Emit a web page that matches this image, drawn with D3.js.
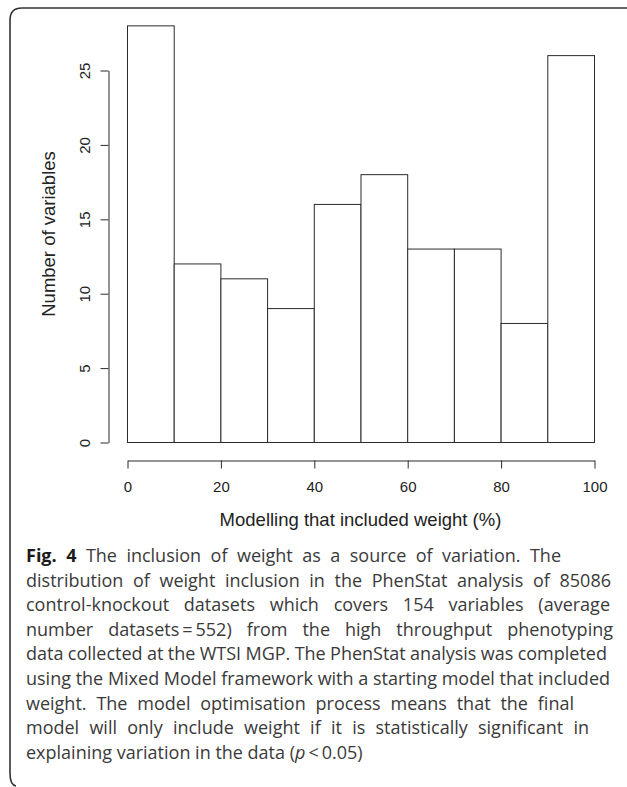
<!DOCTYPE html>
<html>
<head>
<meta charset="utf-8">
<script src="https://cdn.jsdelivr.net/npm/d3@7"></script>
<style>
  html, body { margin: 0; padding: 0; background: #fff; }
  svg { display: block; }
</style>
</head>
<body>
<svg id="chart" width="627" height="787"></svg>
<script>
// ---------- data ----------
const binEdges = [0, 10, 20, 30, 40, 50, 60, 70, 80, 90, 100];
const counts = [28, 12, 11, 9, 16, 18, 13, 13, 8, 26];
const xTicks = [0, 20, 40, 60, 80, 100];
const yTicks = [0, 5, 10, 15, 20, 25];
const xTitle = "Modelling that included weight (%)";
const yTitle = "Number of variables";
// caption lines; "**" marks bold, "_" marks italic
const captionLines = [
  "**Fig. 4** The inclusion of weight as a source of variation. The",
  "distribution of weight inclusion in the PhenStat analysis of 85086",
  "control-knockout datasets which covers 154 variables (average",
  "number datasets\u2009=\u2009552) from the high throughput phenotyping",
  "data collected at the WTSI MGP. The PhenStat analysis was completed",
  "using the Mixed Model framework with a starting model that included",
  "weight. The model optimisation process means that the final",
  "model will only include weight if it is statistically significant in",
  "explaining variation in the data (_p_\u2009<\u20090.05)"
];

// ---------- layout ----------
const lineEnds = [561, 611, 610, 613, 607, 610, 574, 589, null];
const svg = d3.select("#chart");
const ink = "#2b2b2b";

// frame
svg.append("path")
  .attr("d", "M627,8 L22,8 Q10,8 10,20 L10,773 Q10,785 16,786")
  .attr("fill", "none").attr("stroke", "#333").attr("stroke-width", 1.6);

const x = d3.scaleLinear().domain([0, 100]).range([127, 594]);
const y = d3.scaleLinear().domain([0, 25]).range([442, 70]);

const bins = counts.map((c, i) => ({ x0: binEdges[i], x1: binEdges[i + 1], n: c }));

svg.append("g").selectAll("rect").data(bins).join("rect")
  .attr("x", d => x(d.x0) + 0.5)
  .attr("width", d => x(d.x1) - x(d.x0))
  .attr("y", d => y(d.n) + 0.5)
  .attr("height", d => y(0) - y(d.n))
  .attr("fill", "#fff")
  .attr("stroke", ink).attr("stroke-width", 1);

const axisFont = "'Liberation Sans', Arial, Helvetica, sans-serif";

// x axis
const gx = svg.append("g").attr("transform", "translate(0.5,460.5)")
  .call(d3.axisBottom(x).tickValues(xTicks).tickSize(8).tickSizeOuter(0))
  .attr("font-family", axisFont);
gx.select(".domain").attr("stroke", ink);
gx.selectAll(".tick line").attr("stroke", ink);
gx.selectAll(".tick text")
  .attr("y", 31).attr("dy", 0)
  .attr("font-size", 15).attr("fill", "#222");

// y axis
const gy = svg.append("g").attr("transform", "translate(108.5,0.5)")
  .call(d3.axisLeft(y).tickValues(yTicks).tickSize(8).tickSizeOuter(0))
  .attr("font-family", axisFont);
gy.select(".domain").attr("stroke", ink);
gy.selectAll(".tick line").attr("stroke", ink);
gy.selectAll(".tick text")
  .attr("x", 0).attr("y", -19).attr("dy", 0)
  .attr("transform", "rotate(-90)")
  .attr("text-anchor", "middle")
  .attr("font-size", 15).attr("fill", "#222");

// axis titles
svg.append("text")
  .attr("x", 360.5).attr("y", 526)
  .attr("text-anchor", "middle")
  .attr("font-family", axisFont).attr("font-size", 18.5).attr("fill", "#222")
  .text(xTitle);
svg.append("text")
  .attr("transform", "translate(55,234) rotate(-90)")
  .attr("text-anchor", "middle")
  .attr("font-family", axisFont).attr("font-size", 18.5).attr("fill", "#222")
  .text(yTitle);

// ---------- caption (justified, word by word) ----------
const capFont = "'Open Sans', 'Noto Sans', sans-serif";
const capSize = 18;
const capX = 26, capY0 = 562, capLH = 24.6;
const capG = svg.append("g").attr("font-family", capFont).attr("font-size", capSize).attr("fill", "#3a3a3a");

function parseSegments(word, state) {
  const segs = [];
  let buf = "";
  let i = 0;
  while (i < word.length) {
    if (word.startsWith("**", i)) {
      if (buf) segs.push({ t: buf, bold: state.bold, italic: state.italic });
      buf = ""; state.bold = !state.bold; i += 2; continue;
    }
    if (word[i] === "_") {
      if (buf) segs.push({ t: buf, bold: state.bold, italic: state.italic });
      buf = ""; state.italic = !state.italic; i += 1; continue;
    }
    buf += word[i]; i++;
  }
  if (buf) segs.push({ t: buf, bold: state.bold, italic: state.italic });
  return segs;
}

const spaceProbe = capG.append("text").attr("x", 0).attr("y", -100).text("a a");
const aProbe = capG.append("text").attr("x", 0).attr("y", -100).text("aa");
const spaceW = spaceProbe.node().getComputedTextLength() - aProbe.node().getComputedTextLength();
spaceProbe.remove(); aProbe.remove();

captionLines.forEach((line, li) => {
  const state = { bold: false, italic: false };
  const words = line.split(" ").map(w => parseSegments(w, state));
  const yb = capY0 + li * capLH;
  const lg = capG.append("g");
  const nodes = words.map(segs => {
    const t = lg.append("text").attr("y", yb);
    segs.forEach(s => {
      t.append("tspan")
        .attr("font-weight", s.bold ? "bold" : null)
        .attr("font-style", s.italic ? "italic" : null)
        .attr("fill", s.bold ? "#1a1a1a" : null)
        .text(s.t);
    });
    return t;
  });
  const widths = nodes.map(n => n.node().getComputedTextLength());
  const total = d3.sum(widths);
  let gap = spaceW;
  let scale = 1;
  if (lineEnds[li] != null && nodes.length > 1) {
    const avail = lineEnds[li] - capX;
    const minGap = spaceW * 0.85;
    const natural = total + (nodes.length - 1) * minGap;
    if (natural > avail) {
      gap = minGap;
      scale = avail / natural;
    } else {
      gap = (avail - total) / (nodes.length - 1);
    }
  }
  let cx = capX;
  nodes.forEach((n, i) => { n.attr("x", cx); cx += widths[i] + gap; });
  if (scale !== 1) {
    lg.attr("transform", `translate(${capX},0) scale(${scale},1) translate(${-capX},0)`);
  }
});
</script>
</body>
</html>
